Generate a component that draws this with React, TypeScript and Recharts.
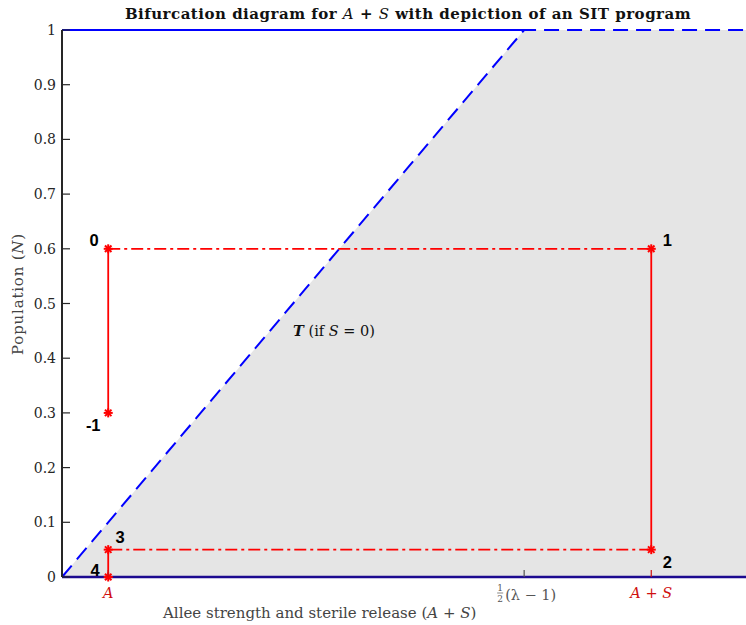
import { ComposedChart, Area, Line, Scatter, XAxis, YAxis, ReferenceDot } from 'recharts';

// population axis
const nTicks = [0, 0.1, 0.2, 0.3, 0.4, 0.5, 0.6, 0.7, 0.8, 0.9, 1];
const xMax = 1.48;

// x positions of the marked values
const tickX = [0.1, 1, 1.275];
const tickNames = ['A', 'half', 'A+S'];

// grey extinction region and threshold T
const regionX = [0, 1, 1.48];
const regionN = [0, 1, 1];

// stable branches
const upperX = [0, 1];
const upperN = [1, 1];
const zeroX = [0, 1.48];
const zeroN = [0, 0];

// SIT program steps
const stepNames = ['-1', '0', '1', '2', '3', '4'];
const stepX = [0.1, 0.1, 1.275, 1.275, 0.1, 0.1];
const stepN = [0.3, 0.6, 0.6, 0.05, 0.05, 0];

const regionData = regionX.map((x, i) => ({ x, n: regionN[i] }));
const upperData = upperX.map((x, i) => ({ x, n: upperN[i] }));
const zeroData = zeroX.map((x, i) => ({ x, n: zeroN[i] }));
const stepData = stepX.map((x, i) => ({ x, n: stepN[i], step: stepNames[i] }));
const segments = stepData.slice(1).map((p, i) => ({
  data: [stepData[i], p],
  vertical: p.x === stepData[i].x,
}));

const SERIF = '"DejaVu Serif", serif';
const RED = '#ff0000';
const INK = '#262626';

const labelOffset: Record<string, [number, number]> = {
  '-1': [-15, 12],
  '0': [-14, -9],
  '1': [16, -9],
  '2': [16, 12],
  '3': [12, -13],
  '4': [-13, -7],
};

function StepMark(props: any) {
  const { cx, cy, payload } = props;
  const r = 4.5;
  const d = r * 0.72;
  const [dx, dy] = labelOffset[payload.step];
  return (
    <g>
      <g stroke={RED} strokeWidth={2}>
        <line x1={cx - r} y1={cy} x2={cx + r} y2={cy} />
        <line x1={cx} y1={cy - r} x2={cx} y2={cy + r} />
        <line x1={cx - d} y1={cy - d} x2={cx + d} y2={cy + d} />
        <line x1={cx - d} y1={cy + d} x2={cx + d} y2={cy - d} />
      </g>
      <text
        x={cx + dx}
        y={cy + dy}
        dy="0.36em"
        textAnchor="middle"
        fontFamily='"Liberation Sans", Arial, sans-serif'
        fontWeight="bold"
        fontSize={16.5}
        fill="#000"
      >
        {payload.step}
      </text>
    </g>
  );
}

function NTick(props: any) {
  const { x, y, payload } = props;
  return (
    <g>
      <line x1={x} y1={y} x2={x + 8} y2={y} stroke={INK} strokeWidth={1.2} />
      <text x={x - 6} y={y} dy="0.36em" textAnchor="end" fontFamily={SERIF} fontSize={14} fill={INK}>
        {String(payload.value)}
      </text>
    </g>
  );
}

function XTick(props: any) {
  const { x, y, payload } = props;
  const name = tickNames[tickX.indexOf(payload.value)];
  const color = name === 'half' ? '#555' : '#d01010';
  return (
    <g>
      <line x1={x} y1={y} x2={x} y2={y - 7} stroke={color} strokeWidth={1.2} />
      {name === 'half' ? (
        <g fontFamily={SERIF} fill="#555">
          <text x={x - 24} y={y + 14} fontSize={9} textAnchor="middle">1</text>
          <line x1={x - 27} y1={y + 16} x2={x - 21} y2={y + 16} stroke="#555" strokeWidth={0.7} />
          <text x={x - 24} y={y + 25} fontSize={9} textAnchor="middle">2</text>
          <text x={x - 19} y={y + 23} fontSize={14.5}>(λ − 1)</text>
        </g>
      ) : (
        <text x={x} y={y + 21} textAnchor="middle" fontFamily={SERIF} fontSize={14.5} fontStyle="italic" fill={color}>
          {name === 'A' ? 'A' : 'A + S'}
        </text>
      )}
    </g>
  );
}

function ThresholdLabel(props: any) {
  const { cx, cy } = props;
  return (
    <text x={cx} y={cy} dy="0.36em" fontFamily={SERIF} fontSize={14.5} fill="#111">
      <tspan fontStyle="italic" fontWeight="bold">T</tspan>
      <tspan> (if </tspan>
      <tspan fontStyle="italic">S</tspan>
      <tspan> = 0)</tspan>
    </text>
  );
}

export default function App() {
  return (
    <div style={{ position: 'absolute', left: 0, top: 0, width: 746, height: 625, background: '#fff' }}>
      <ComposedChart width={746} height={625} margin={{ top: 30, right: 0, bottom: 18, left: 0 }}>
        <XAxis
          dataKey="x"
          type="number"
          domain={[0, xMax]}
          ticks={tickX}
          height={30}
          axisLine={false}
          tickLine={false}
          tickSize={0}
          tickMargin={0}
          tick={<XTick />}
        />
        <YAxis
          type="number"
          domain={[0, 1]}
          ticks={nTicks}
          width={62}
          axisLine={{ stroke: INK, strokeWidth: 2 }}
          tickLine={false}
          tickSize={0}
          tickMargin={0}
          tick={<NTick />}
        />
        <Area
          data={regionData}
          dataKey="n"
          type="linear"
          stroke="none"
          fill="#e5e5e5"
          fillOpacity={1}
          isAnimationActive={false}
        />
        <Line
          data={upperData}
          dataKey="n"
          type="linear"
          stroke="#0000ff"
          strokeWidth={2.2}
          dot={false}
          isAnimationActive={false}
        />
        <Line
          data={regionData}
          dataKey="n"
          type="linear"
          stroke="#0000ff"
          strokeWidth={2}
          strokeDasharray="15 8"
          dot={false}
          isAnimationActive={false}
        />
        <Line
          data={zeroData}
          dataKey="n"
          type="linear"
          stroke="#1c0a90"
          strokeWidth={2.5}
          dot={false}
          isAnimationActive={false}
        />
        {segments.map((s, i) => (
          <Line
            key={i}
            data={s.data}
            dataKey="n"
            type="linear"
            stroke={RED}
            strokeWidth={1.8}
            strokeDasharray={s.vertical ? undefined : '12 4 3 4'}
            dot={false}
            isAnimationActive={false}
          />
        ))}
        <Scatter data={stepData} dataKey="n" shape={<StepMark />} isAnimationActive={false} />
        <ReferenceDot x={0.5} y={0.45} r={0} shape={<ThresholdLabel />} />
      </ComposedChart>
      <div
        style={{
          position: 'absolute',
          left: 70,
          top: 5,
          width: 676,
          textAlign: 'center',
          fontFamily: SERIF,
          fontWeight: 'bold',
          fontSize: 15,
          letterSpacing: 0.5,
          color: '#111',
          whiteSpace: 'nowrap',
        }}
      >
        Bifurcation diagram for <i style={{ fontWeight: 'normal' }}>A</i> + <i style={{ fontWeight: 'normal' }}>S</i> with depiction of an SIT program
      </div>
      <div
        style={{
          position: 'absolute',
          left: 163,
          top: 604,
          fontFamily: SERIF,
          fontSize: 15,
          color: '#444',
          whiteSpace: 'nowrap',
        }}
      >
        Allee strength and sterile release (<i>A</i> + <i>S</i>)
      </div>
      <div
        style={{
          position: 'absolute',
          left: 18,
          top: 294,
          transform: 'translate(-50%, -50%) rotate(-90deg)',
          fontFamily: SERIF,
          fontSize: 15,
          letterSpacing: 0.8,
          color: '#444',
          whiteSpace: 'nowrap',
        }}
      >
        Population (<i>N</i>)
      </div>
    </div>
  );
}
